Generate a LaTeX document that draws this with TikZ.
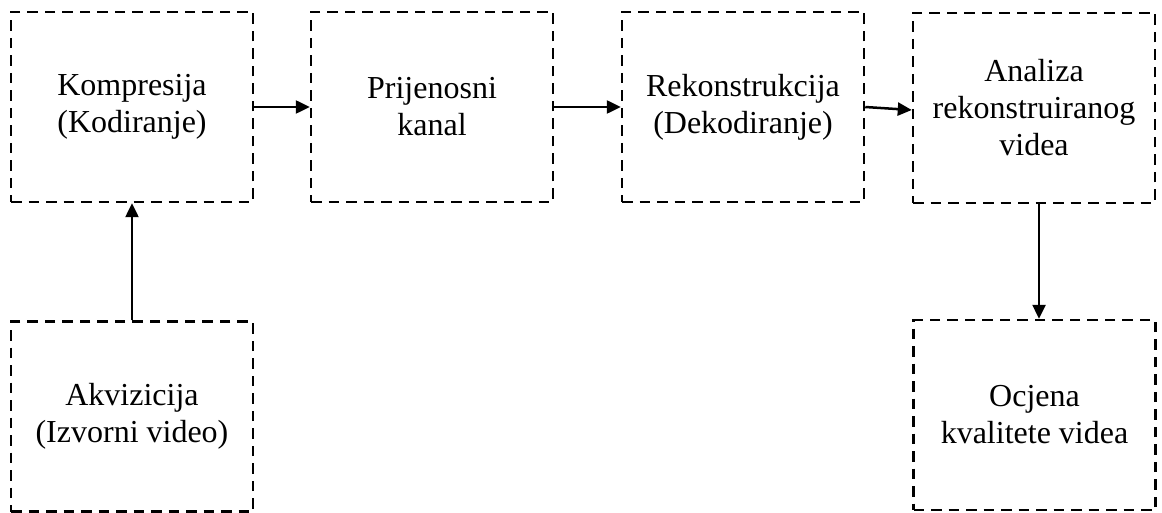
\documentclass[tikz,border=0pt]{standalone}
\usepackage{fontspec}
\setmainfont{Liberation Serif}
\usetikzlibrary{arrows.meta}
\begin{document}
\begin{tikzpicture}[x=1pt,y=-1pt,
  blk/.style={draw, line width=2.5pt, dash pattern=on 10.5pt off 7pt,
    minimum width=242pt, minimum height=190pt, inner sep=0pt,
    align=center, font=\fontsize{32}{37}\selectfont},
  conn/.style={line width=2.5pt, -{Triangle[length=14pt,width=13pt]}}]
\useasboundingbox (0,0) rectangle (1162,513);
\node[blk] (b1) at (132,107) {Kompresija\\(Kodiranje)};
\node[blk] (b2) at (432,107) {Prijenosni\\kanal};
\node[blk] (b3) at (743,107) {Rekonstrukcija\\(Dekodiranje)};
\node[blk] (b4) at (1034,108) {Analiza\\rekonstruiranog\\videa};
\node[blk] (b5) at (132,416.5) {Akvizicija\\(Izvorni video)};
\node[blk] (b6) at (1034.5,415) {Ocjena\\kvalitete videa};
\draw[conn] (b1.east) -- (b2.west);
\draw[conn] (b2.east) -- (b3.west);
\draw[conn] (b3.east) -- ([yshift=-2pt]b4.west);
\draw[conn] (b5.north) -- (b1.south);
\draw[conn] ([xshift=5pt]b4.south) -- ([xshift=4.5pt]b6.north);
\end{tikzpicture}
\end{document}
